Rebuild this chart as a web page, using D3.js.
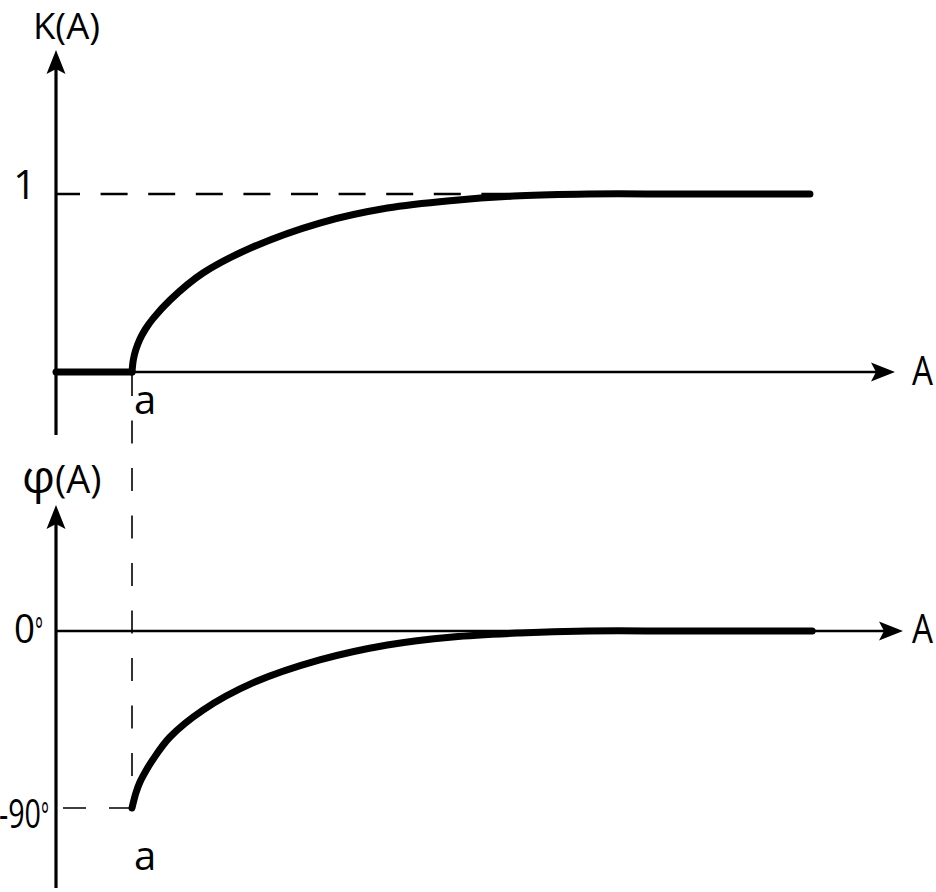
<!DOCTYPE html>
<html>
<head>
<meta charset="utf-8">
<script src="https://cdn.jsdelivr.net/npm/d3@7"></script>
<style>
  html, body { margin: 0; padding: 0; background: #fff; }
  svg { display: block; }
  text { font-family: "Open Sans", "DejaVu Sans", sans-serif; fill: #000; }
</style>
</head>
<body>
<svg id="chart" width="936" height="892"></svg>
<script>
// ---- data (A in units of the dead-zone a = 1) ----
const deadA   = [0, 1];
const deadK   = [0, 0];
const kA      = [1, 1.017, 1.05, 1.105, 1.18, 1.276, 1.5, 1.934, 2.59, 3.47, 4.36, 5.22, 6.1, 7.0, 8.2, 9.92];
const kVal    = [0, 0.067, 0.125, 0.186, 0.243, 0.300, 0.404, 0.556, 0.702, 0.837, 0.921, 0.964, 0.99, 1, 1, 1];
const phiA    = [1, 1.026, 1.05, 1.105, 1.18, 1.276, 1.5, 1.934, 2.59, 3.47, 4.36, 5.22, 6.1, 7.0, 8.2, 9.95];
const phiVal  = [-90, -85.9, -82.5, -76.8, -71.3, -65.3, -53.9, -40.2, -26.4, -14.7, -7.1, -3.0, -1.0, 0, 0, 0];
const aValue  = 1;
const kTicks  = [{v: 1, label: "1"}];
const phiTicks = [{v: 0, label: "0", sup: "°"}, {v: -90, label: "-90", sup: "°"}];

// ---- layout ----
const svg = d3.select("#chart");
const x = d3.scaleLinear().domain([0, 1]).range([56, 132]);
const yK = d3.scaleLinear().domain([0, 1]).range([372, 194]);
const yP = d3.scaleLinear().domain([-90, 0]).range([808, 631]);

const topXEnd = x.invert(895), botXEnd = x.invert(903);
const topYTop = yK.invert(50), topYBot = yK.invert(435);
const botYTop = yP.invert(505), botYBot = yP.invert(888);

function arrow(px, py, angle) {
  svg.append("path")
    .attr("d", "M0,0 L-24,-9.5 L-19,0 L-24,9.5 Z")
    .attr("transform", `translate(${px},${py}) rotate(${angle})`)
    .attr("fill", "#000");
}

// ---- axes ----
svg.append("line").attr("x1", x(0)).attr("x2", x(0)).attr("y1", yK(topYBot)).attr("y2", yK(topYTop) + 15)
  .attr("stroke", "#000").attr("stroke-width", 3.2);
arrow(x(0), yK(topYTop), -90);
svg.append("line").attr("x1", x(0)).attr("x2", x(topXEnd) - 15).attr("y1", yK(0)).attr("y2", yK(0))
  .attr("stroke", "#000").attr("stroke-width", 2.6);
arrow(x(topXEnd), yK(0), 0);

svg.append("line").attr("x1", x(0)).attr("x2", x(0)).attr("y1", yP(botYBot)).attr("y2", yP(botYTop) + 15)
  .attr("stroke", "#000").attr("stroke-width", 3.2);
arrow(x(0), yP(botYTop), -90);
svg.append("line").attr("x1", x(0)).attr("x2", x(botXEnd) - 15).attr("y1", yP(0)).attr("y2", yP(0))
  .attr("stroke", "#000").attr("stroke-width", 2.6);
arrow(x(botXEnd), yP(0), 0);

// ---- dashed guides ----
svg.append("line").attr("x1", x(0)).attr("x2", x(6.63)).attr("y1", yK(1)).attr("y2", yK(1))
  .attr("stroke", "#000").attr("stroke-width", 2.6).attr("stroke-dasharray", "27,20.6").attr("stroke-dashoffset", 3);
svg.append("line").attr("x1", x(aValue)).attr("x2", x(aValue)).attr("y1", yK(0) + 1).attr("y2", yP(-90))
  .attr("stroke", "#000").attr("stroke-width", 1.6).attr("stroke-dasharray", "23,24.5");
svg.append("line").attr("x1", x(aValue)).attr("x2", x(0)).attr("y1", yP(-90)).attr("y2", yP(-90))
  .attr("stroke", "#000").attr("stroke-width", 1.5).attr("stroke-dasharray", "23,23");

// ---- curves ----
const crv = d3.curveCatmullRom.alpha(0.5);
const lineK = d3.line().x(d => x(d[0])).y(d => yK(d[1])).curve(crv);
const lineP = d3.line().x(d => x(d[0])).y(d => yP(d[1])).curve(crv);

svg.append("path").attr("d", d3.line().x(d => x(d[0])).y(d => yK(d[1]))(deadA.map((a, i) => [a, deadK[i]])))
  .attr("fill", "none").attr("stroke", "#000").attr("stroke-width", 7).attr("stroke-linecap", "round");
svg.append("path").attr("d", lineK(kA.map((a, i) => [a, kVal[i]])))
  .attr("fill", "none").attr("stroke", "#000").attr("stroke-width", 7).attr("stroke-linecap", "round");
svg.append("path").attr("d", lineP(phiA.map((a, i) => [a, phiVal[i]])))
  .attr("fill", "none").attr("stroke", "#000").attr("stroke-width", 7).attr("stroke-linecap", "round");

// ---- labels ----
function label(txt, px, py, len, size) {
  const t = svg.append("text").attr("x", px).attr("y", py).attr("font-size", size || 40).text(txt);
  if (len) t.attr("textLength", len).attr("lengthAdjust", "spacingAndGlyphs");
  return t;
}
label("K(A)", 33, 39, 67, 37);
label("A", 912, 385, 21);
label("A", 912, 643, 21);
label("a", 134, 414);
label("a", 134, 870);
const phiLbl = svg.append("text").attr("x", 22).attr("y", 493).attr("font-size", 40);
phiLbl.append("tspan").attr("font-size", 46).text("φ");
phiLbl.append("tspan").attr("font-size", 38).text("(A)");

kTicks.forEach(t => {
  svg.append("text").attr("x", 36).attr("y", yK(t.v) + 5).attr("font-size", 40)
    .attr("text-anchor", "end").text(t.label);
});
phiTicks.forEach(t => {
  const tx = svg.append("text").attr("x", t.v === 0 ? 14 : -1).attr("y", yP(t.v) + (t.v === 0 ? 12 : 20))
    .attr("font-size", 40);
  tx.append("tspan").text(t.label).attr("textLength", t.v === 0 ? 21 : 42).attr("lengthAdjust", "spacingAndGlyphs");
  tx.append("tspan").attr("font-size", 34).attr("textLength", 8).attr("lengthAdjust", "spacingAndGlyphs").text(t.sup);
});
</script>
</body>
</html>
